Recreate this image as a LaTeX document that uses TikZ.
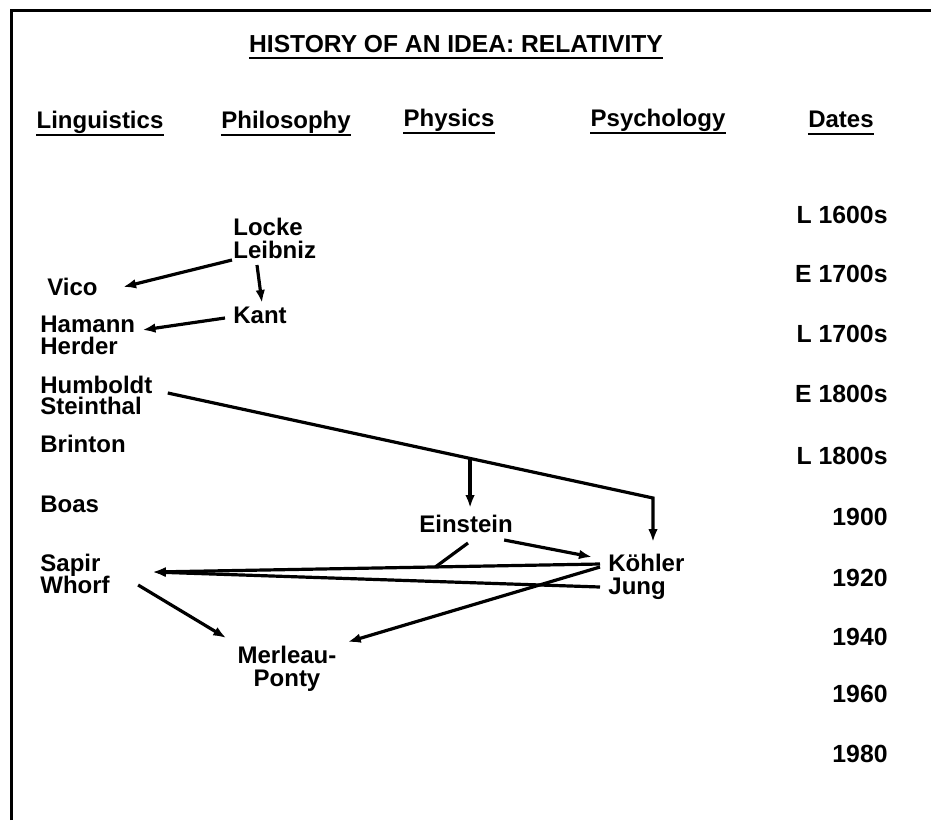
\documentclass[tikz,border=0pt]{standalone}
\usepackage{fontspec}
\setmainfont{Liberation Sans}
\usepackage{tikz}
\usetikzlibrary{calc, positioning, arrows.meta}
\tikzset{
    scholar/.style={anchor=base west, inner sep=0pt, font=\fontsize{12}{12}\selectfont\bfseries},
    pair/.style={anchor=north, inner sep=0pt, align=center, font=\fontsize{12}{11.5}\selectfont\bfseries},
    colhead/.style={anchor=base, inner sep=0pt, font=\fontsize{12}{12}\selectfont\bfseries},
    headline/.style={anchor=base, inner sep=0pt, font=\fontsize{12.3}{12}\selectfont\bfseries},
    period/.style={anchor=base east, inner sep=0pt, font=\fontsize{12.4}{12}\selectfont\bfseries},
    arrow/.style={-{Latex[length=6.5pt, width=4.8pt]}, line width=1.6pt},
    link/.style={line width=1.6pt},
    rule/.style={line width=1.3pt},
    frame/.style={line width=1.5pt}
}

\begin{document}
\begin{tikzpicture}[x=0.5pt, y=-0.5pt]
        \useasboundingbox (0,0) rectangle (931,820);

        % Frame (open at right and bottom)
        \draw[frame] (11,820) -- (11,10) -- (931,10);

        % Title and column heads
        \node[headline] (title) at (456,52) {HISTORY OF AN IDEA: RELATIVITY};
        \node[colhead] (ling) at (100,128) {Linguistics};
        \node[colhead] (phil) at (286,128) {Philosophy};
        \node[colhead] (phys) at (449,126) {Physics};
        \node[colhead] (psych) at (658,126) {Psychology};
        \node[colhead] (dates) at (841,127) {Dates};
        \draw[rule] ([shift={(0,6)}]title.base west) -- ([shift={(0,6)}]title.base east);
        \foreach \h in {ling, phil, phys, psych, dates}
            \draw[rule] ([shift={(0,7)}]\h.base west) -- ([shift={(0,7)}]\h.base east);

        % Dates
        \node[period] (d1) at (888,223) {L 1600s};
        \node[period] (d2) at (888,282) {E 1700s};
        \node[period] (d3) at (888,342) {L 1700s};
        \node[period] (d4) at (888,402) {E 1800s};
        \node[period] (d5) at (888,464) {L 1800s};
        \node[period] (d6) at (888,525) {1900};
        \node[period] (d7) at (888,586) {1920};
        \node[period] (d8) at (888,645) {1940};
        \node[period] (d9) at (888,702) {1960};
        \node[period] (d10) at (888,762) {1980};

        % Linguistics
        \node[scholar] (vico) at (47,295) {Vico};
        \node[scholar] (hamann) at (40,332) {Hamann};
        \node[scholar] (herder) at (40,354) {Herder};
        \node[scholar] (humboldt) at (40,393) {Humboldt};
        \node[scholar] (steinthal) at (40,414) {Steinthal};
        \node[scholar] (brinton) at (40,452) {Brinton};
        \node[scholar] (boas) at (40,512) {Boas};
        \node[scholar] (sapir) at (40,571) {Sapir};
        \node[scholar] (whorf) at (40,593) {Whorf};

        % Philosophy
        \node[scholar] (locke) at (233,235) {Locke};
        \node[scholar] (leibniz) at (233,258) {Leibniz};
        \node[scholar] (kant) at (233,323) {Kant};
        \node[pair] (merleau) at (287,646) {Merleau-\\Ponty};

        % Physics and psychology
        \node[scholar] (einstein) at (419,532) {Einstein};
        \node[scholar] (koehler) at (608,571) {Köhler};
        \node[scholar] (jung) at (608,594) {Jung};

        % Early links
        \draw[arrow] ([shift={(-1,2)}]leibniz.base west) -- ([shift={(25,-8)}]vico.base east);
        \draw[arrow] ([shift={(24,7)}]leibniz.base west) -- ([shift={(29,-20)}]kant.base west);
        \draw[arrow] ([shift={(-8,-5)}]kant.base west) -- ([shift={(7,-2)}]hamann.base east);

        % Humboldt line down to Einstein and Koehler
        \coordinate (hs) at ([shift={(15,0)}]humboldt.base east);
        \coordinate (hc) at ([shift={(45,-73)}]koehler.base west);
        \coordinate (hj) at ($(hs)!0.623!(hc)$);
        \coordinate (et) at ([shift={(50,-24)}]einstein.base west);
        \draw[arrow] (hs) -- (hc) -- ([shift={(45,-29)}]koehler.base west);
        \draw[arrow] (hj) -- (hj |- et);

        % Twentieth century
        \coordinate (st) at ([shift={(52,1)}]sapir.base east);
        \coordinate (ks) at ([shift={(-8,-7)}]koehler.base west);
        \draw[arrow] ([shift={(-9,8)}]einstein.base east) -- ([shift={(-16,-14)}]koehler.base west);
        \draw[link] ([shift={(49,11)}]einstein.base west) -- ($(ks)!0.368!(st)$);
        \draw[arrow] (ks) -- (st);
        \draw[arrow] ([shift={(-8,-7)}]jung.base west) -- (st);
        \draw[arrow] ([shift={(-8,-4)}]koehler.base west) -- ([shift={(11,-4)}]merleau.north east);
        \draw[arrow] ([shift={(28,-8)}]whorf.base east) -- ([shift={(-11,-8)}]merleau.north west);
    \end{tikzpicture}
\end{document}
